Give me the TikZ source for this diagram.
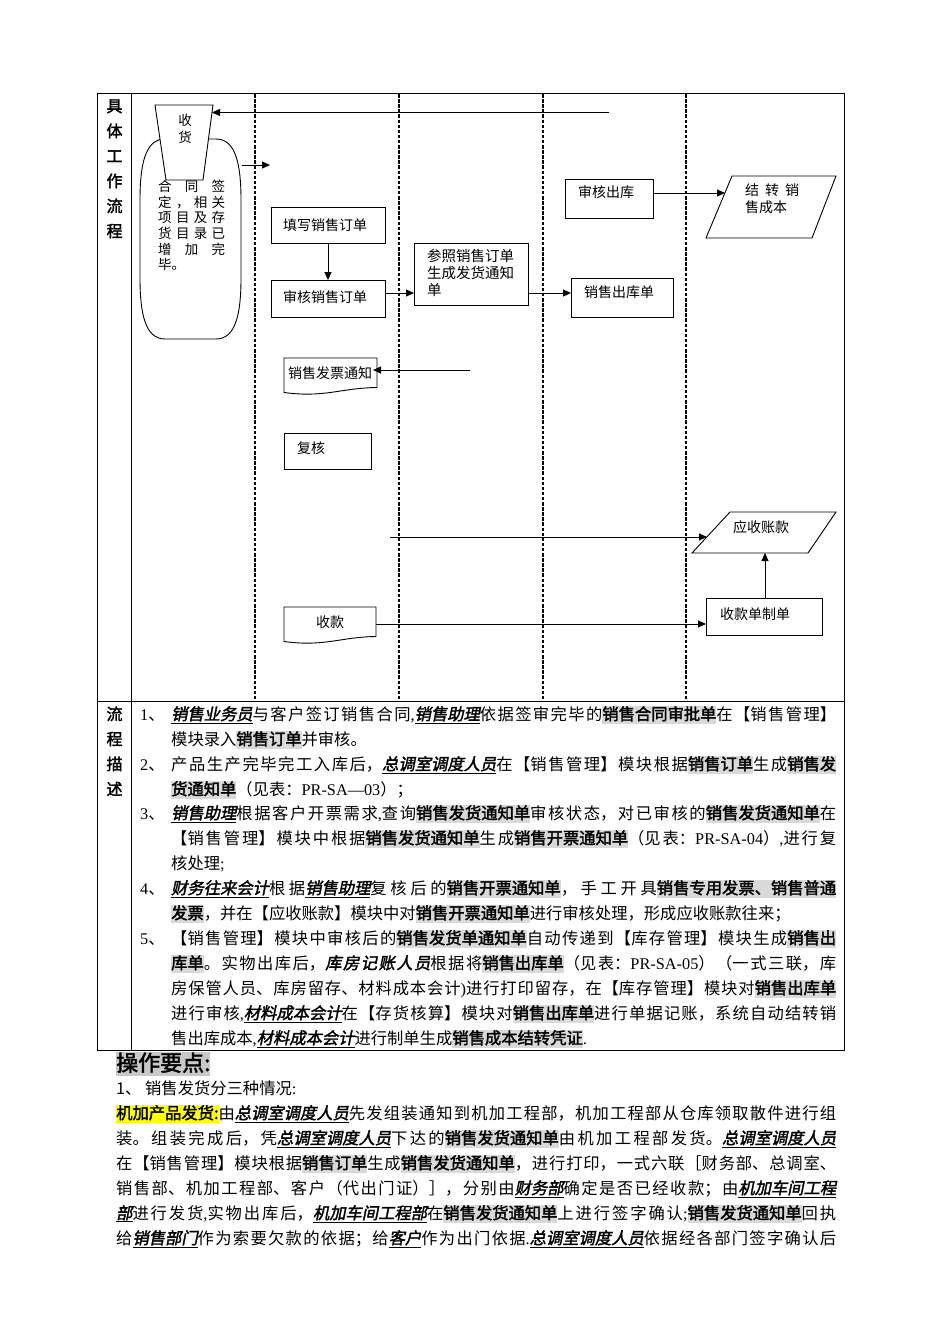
\documentclass[tikz,border=0pt]{standalone}
\usepackage{fontspec}
\setmainfont{Noto Sans CJK SC}[AutoFakeSlant=0.2,AutoFakeBold=2]
\newfontfamily\lat{Liberation Serif}
\usetikzlibrary{arrows.meta}
\XeTeXlinebreaklocale "zh"
\XeTeXlinebreakskip=0pt plus 3pt
\definecolor{hlgray}{RGB}{217,217,217}
\definecolor{hlhead}{RGB}{200,200,200}
\definecolor{hlyellow}{RGB}{255,255,0}
\newcommand\hl[1]{{\setlength{\fboxsep}{0pt}\colorbox{hlgray}{\rule[-4pt]{0pt}{18.5pt}\bfseries #1}}}
\newcommand\yl[1]{{\setlength{\fboxsep}{0pt}\colorbox{hlyellow}{\rule[-4pt]{0pt}{18.5pt}\bfseries #1}}}
\newcommand\emp[1]{\underline{\bfseries\itshape #1}}
\newcommand\jl[2]{\parbox[b]{#1}{\parindent=0pt\parfillskip=0pt\tolerance=10000\relax#2\par}}
\begin{document}
\begin{tikzpicture}[x=1pt,y=-1pt,
  frame/.style={line width=0.9pt,draw=black},
  lane/.style={line width=1.2pt,dash pattern=on 3.5pt off 1.6pt},
  box/.style={draw,line width=0.9pt,inner sep=0pt,outer sep=0pt},
  arr/.style={line width=0.9pt,-{Triangle[length=8pt,width=7pt]}},
  ln/.style={line width=0.9pt},
  lbl/.style={font=\fontsize{14}{16}\selectfont,inner sep=0pt,anchor=base west},
  sm/.style={font=\fontsize{13.5}{15}\selectfont,inner sep=0pt,anchor=base west},
  body/.style={font=\fontsize{16.3}{20}\selectfont,inner sep=0pt,anchor=base west},
  side/.style={font=\fontsize{16}{20}\selectfont\bfseries,inner sep=0pt,anchor=base},
]
\useasboundingbox[fill=white] (0,0) rectangle (950,1344);

% table frame
\draw[frame] (97.5,93.5) rectangle (844,1050);
\draw[frame] (131,93.5) -- (131,1050);
\draw[frame] (97.5,701) -- (844,701);
\foreach \x in {255,399,543,686} \draw[lane] (\x,94) -- (\x,700);

% side labels
\foreach \c/\y [count=\i] in {具/112,体/137,工/162,作/187,流/212,程/237}
  \node[side] (s\i) at (114.5,\y) {\c};
\foreach \c/\y [count=\i] in {流/720,程/745,描/770,述/795}
  \node[side] (d\i) at (114.5,\y) {\c};

% barrel (contract signed)
\draw[ln] (165,139) -- (216,139) .. controls (236,139) and (241,165) .. (241,200) -- (241,278)
  .. controls (241,313) and (236,339) .. (216,339) -- (165,339)
  .. controls (145,339) and (140,313) .. (140,278) -- (140,200)
  .. controls (140,165) and (145,139) .. (165,139) -- cycle;
\node[sm] (c1) at (158,191) {\hbox to 67pt{合\hfil 同\hfil 签}};
\node[sm] (c2) at (158,207) {\hbox to 67pt{定\hfil ，\hfil 相\hfil 关}};
\node[sm] (c3) at (158,222.5) {\hbox to 67pt{项\hfil 目\hfil 及\hfil 存}};
\node[sm] (c4) at (158,238) {\hbox to 67pt{货\hfil 目\hfil 录\hfil 已}};
\node[sm] (c5) at (158,254) {\hbox to 67pt{增\hfil 加\hfil 完}};
\node[sm] (c6) at (158,269.5) {毕。};

% trapezoid (receive goods)
\draw[ln,fill=white] (155,105) -- (213,105) -- (203,180) -- (166,180) -- cycle;
\node[sm,anchor=base] (r1) at (185,125) {收};
\node[sm,anchor=base] (r2) at (185,142) {货};

% boxes
\node[box,minimum width=114pt,minimum height=36pt] (fill) at (328,225) {};
\node[lbl] (tfill) at (283,230) {填写销售订单};
\node[box,minimum width=114pt,minimum height=37pt] (rev) at (328,298.5) {};
\node[lbl] (trev) at (283,302) {审核销售订单};
\node[box,minimum width=114pt,minimum height=62pt] (ref) at (471,274) {};
\node[lbl,font=\fontsize{14.5}{16}\selectfont] (tref1) at (427,261.5) {参照销售订单};
\node[lbl,font=\fontsize{14.5}{16}\selectfont] (tref2) at (427,278.5) {生成发货通知};
\node[lbl,font=\fontsize{14.5}{16}\selectfont] (tref3) at (427,295.5) {单};
\node[box,minimum width=102pt,minimum height=39pt] (out) at (622,297.5) {};
\node[lbl] (tout) at (584,297.5) {销售出库单};
\node[box,minimum width=88pt,minimum height=39pt] (chk) at (609,198.5) {};
\node[lbl] (tchk) at (578,197.5) {审核出库};
\node[box,minimum width=87pt,minimum height=36pt] (fh) at (327.5,451) {};
\node[lbl] (tfh) at (297,453.5) {复核};
\node[box,minimum width=116pt,minimum height=37pt] (rb) at (764,616.5) {};
\node[lbl] (trb) at (720,619.5) {收款单制单};

% parallelograms
\draw[ln] (732,176) -- (836,176) -- (812,238) -- (706,238) -- cycle;
\node[lbl] (tcost1) at (745,195.5) {\hbox to 54pt{结\hfil 转\hfil 销}};
\node[lbl] (tcost2) at (745,212.5) {售成本};
\draw[ln] (730,512) -- (836,512) -- (808,553) -- (692,553) -- cycle;
\node[lbl] (tar) at (733,532.5) {应收账款};

% document shapes
\draw[ln] (284,358) -- (377,358) -- (377,387.5) .. controls (340,388) and (325,398) .. (284,392.5) -- cycle;
\node[lbl] (tinv) at (288,378.5) {销售发票通知};
\draw[ln] (284,607) -- (376,607) -- (376,636.5) .. controls (340,637) and (325,647) .. (284,641.5) -- cycle;
\node[lbl] (tsk) at (316,627.5) {收款};

% connectors
\coordinate (topR) at (609,112.5);
\coordinate (recvR) at (212,112.5);
\draw[arr] (topR) -- (recvR);
\coordinate (sa) at (242,165);
\coordinate (sb) at (270,165);
\draw[arr] (sa) -- (sb);
\draw[arr] (fill) -- (rev);
\coordinate (y293) at (0,293);
\draw[arr] (rev.east |- y293) -- (ref.west |- y293);
\draw[arr] (ref.east |- y293) -- (out.west |- y293);
\coordinate (y193) at (0,193);
\coordinate (costL) at (725,193);
\draw[arr] (chk.east |- y193) -- (costL);
\coordinate (invsrc) at (470,370);
\coordinate (invR) at (373,370);
\draw[arr] (invsrc) -- (invR);
\coordinate (arsrc) at (390,537);
\coordinate (arL) at (707,537);
\draw[arr] (arsrc) -- (arL);
\coordinate (skR) at (376,624);
\coordinate (y624) at (0,624);
\draw[arr] (skR) -- (rb.west |- y624);
\coordinate (arB) at (765,553);
\draw[arr] (rb.north -| arB) -- (arB);

% process description
\node[body] (n1) at (140,720) {{\lat 1}、};
\node[body] (p1) at (171,720) {\jl{665pt}{\emp{销售业务员}与客户签订销售合同{\lat ,}\emp{销售助理}依据签审完毕的\hl{销售合同审批单}在【销售管理】}};
\node[body] (p2) at (171,745) {模块录入\hl{销售订单}并审核。};
\node[body] (n2) at (140,770) {{\lat 2}、};
\node[body] (p3) at (171,770) {\jl{665pt}{产品生产完毕完工入库后，\emp{总调室调度人员}在【销售管理】模块根据\hl{销售订单}生成\hl{销售发}}};
\node[body] (p4) at (171,795) {\hl{货通知单}（见表：{\lat PR-SA—03}）；};
\node[body] (n3) at (140,819) {{\lat 3}、};
\node[body] (p5) at (171,819) {\jl{665pt}{\emp{销售助理}根据客户开票需求{\lat ,}查询\hl{销售发货通知单}审核状态，对已审核的\hl{销售发货通知单}在}};
\node[body] (p6) at (171,844) {\jl{665pt}{【销售管理】模块中根据\hl{销售发货通知单}生成\hl{销售开票通知单}（见表：{\lat PR-SA-04}）{\lat ,}进行复}};
\node[body] (p7) at (171,869) {核处理{\lat ;}};
\node[body] (n4) at (140,894) {{\lat 4}、};
\node[body] (p8) at (171,894) {\jl{665pt}{\emp{财务往来会计}根据\emp{销售助理}复核后的\hl{销售开票通知单}，手工开具\hl{销售专用发票、销售普通}}};
\node[body] (p9) at (171,919) {\hl{发票}，并在【应收账款】模块中对\hl{销售开票通知单}进行审核处理，形成应收账款往来；};
\node[body] (n5) at (140,944) {{\lat 5}、};
\node[body] (p10) at (171,944) {\jl{665pt}{【销售管理】模块中审核后的\hl{销售发货单通知单}自动传递到【库存管理】模块生成\hl{销售出}}};
\node[body] (p11) at (171,969) {\jl{665pt}{\hl{库单}。实物出库后，{\bfseries\itshape 库房记账人员}根据将\hl{销售出库单}（见表：{\lat PR-SA-05}）（一式三联，库}};
\node[body] (p12) at (171,994) {\jl{665pt}{房保管人员、库房留存、材料成本会计{\lat )}进行打印留存，在【库存管理】模块对\hl{销售出库单}}};
\node[body] (p13) at (171,1019) {\jl{665pt}{进行审核{\lat ,}\emp{材料成本会计}在【存货核算】模块对\hl{销售出库单}进行单据记账，系统自动结转销}};
\node[body] (p14) at (171,1044) {售出库成本{\lat ,}\emp{材料成本会计}进行制单生成\hl{销售成本结转凭证}{\lat .}};

% operation points
\node[body,font=\fontsize{22}{24}\selectfont\bfseries] (head) at (116,1071) {{\setlength{\fboxsep}{0pt}\colorbox{hlhead}{\rule[-5pt]{0pt}{24pt}操作要点:}}};
\node[body] (b1) at (116,1094) {1、 销售发货分三种情况{\lat :}};
\node[body] (b2) at (116,1119) {\jl{720pt}{\yl{机加产品发货:}由\emp{总调室调度人员}先发组装通知到机加工程部，机加工程部从仓库领取散件进行组}};
\node[body] (b3) at (116,1144) {\jl{720pt}{装。组装完成后，凭\emp{总调室调度人员}下达的\hl{销售发货通知单}由机加工程部发货。\emp{总调室调度人员}}};
\node[body] (b4) at (116,1169) {\jl{720pt}{在【销售管理】模块根据\hl{销售订单}生成\hl{销售发货通知单}，进行打印，一式六联［财务部、总调室、}};
\node[body] (b5) at (116,1194) {\jl{720pt}{销售部、机加工程部、客户（代出门证）］，分别由\emp{财务部}确定是否已经收款；由\emp{机加车间工程}}};
\node[body] (b6) at (116,1219) {\jl{720pt}{\emp{部}进行发货{\lat ,}实物出库后，\emp{机加车间工程部}在\hl{销售发货通知单}上进行签字确认{\lat ;}\hl{销售发货通知单}回执}};
\node[body] (b7) at (116,1244) {\jl{720pt}{给\emp{销售部门}作为索要欠款的依据；给\emp{客户}作为出门依据{\lat .}\emp{总调室调度人员}依据经各部门签字确认后}};
\end{tikzpicture}
\end{document}
